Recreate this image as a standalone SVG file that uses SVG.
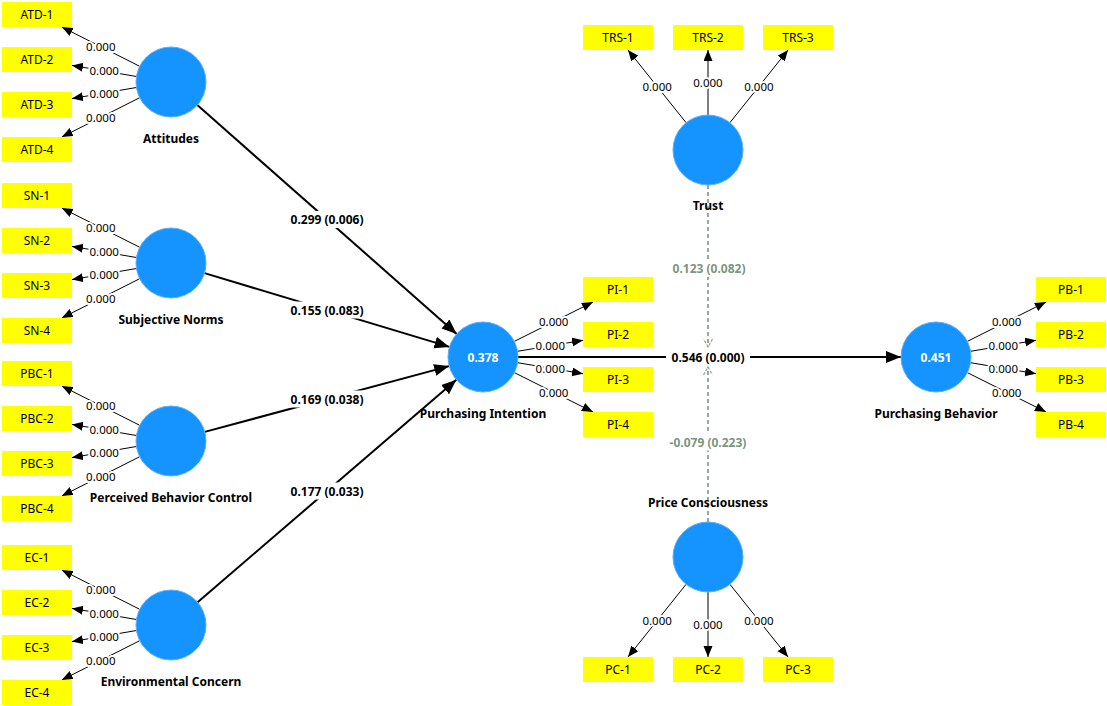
<svg xmlns="http://www.w3.org/2000/svg" width="1107" height="706" viewBox="0 0 1107 706">
<style>
.bg{fill:#ffffff}
.lv{fill:#1593ff;stroke:#5aaefc;stroke-width:1}
.ind{fill:#ffff00}
.it{font-family:"Noto Sans","Open Sans",sans-serif;font-size:12px;fill:#000;text-anchor:middle;dominant-baseline:central}
.nl{font-family:"Noto Sans","Open Sans",sans-serif;font-size:12px;font-weight:bold;fill:#000;text-anchor:middle;dominant-baseline:central}
.r2{font-family:"Noto Sans","Open Sans",sans-serif;font-size:12px;font-weight:bold;fill:#fff;text-anchor:middle;dominant-baseline:central}
.ld{stroke:#000;stroke-width:1;fill:none;marker-end:url(#sa)}
.ll{font-family:"Noto Sans","Open Sans",sans-serif;font-size:11.5px;fill:#000;text-anchor:middle;dominant-baseline:central;paint-order:stroke;stroke:#fff;stroke-width:4;stroke-linejoin:round}
.pth{stroke:#000;stroke-width:2;fill:none;marker-end:url(#ba)}
.pl{font-family:"Noto Sans","Open Sans",sans-serif;font-size:12px;font-weight:bold;fill:#000;text-anchor:middle;dominant-baseline:central}
.lb{fill:#fff}
.md{stroke:#7d9480;stroke-width:1.6;stroke-dasharray:4 3;fill:none;marker-end:url(#ma)}
.ml{font-family:"Noto Sans","Open Sans",sans-serif;font-size:12px;font-weight:bold;fill:#7d9480;text-anchor:middle;dominant-baseline:central}
</style>
<defs>
<marker id="sa" markerUnits="userSpaceOnUse" markerWidth="12" markerHeight="10" refX="11" refY="4.5" orient="auto"><path d="M0,0 L11,4.5 L0,9 z" fill="#000"/></marker>
<marker id="ba" markerUnits="userSpaceOnUse" markerWidth="16" markerHeight="13" refX="15" refY="6" orient="auto"><path d="M0,0 L15,6 L0,12 z" fill="#000"/></marker>
<marker id="ma" markerUnits="userSpaceOnUse" markerWidth="12" markerHeight="12" refX="9" refY="5.5" orient="auto"><path d="M1,1 L9,5.5 L1,10" fill="none" stroke="#8fa391" stroke-width="1.2" stroke-dasharray="3 1.5"/></marker>
</defs>
<rect class="bg" x="0" y="0" width="1107" height="706"/>

<g id="connectors">
<line class="ld" x1="139.7" y1="66.3" x2="61.8" y2="27"/>
<line class="ld" x1="136.4" y1="76.5" x2="72" y2="65.4"/>
<line class="ld" x1="136.4" y1="87.5" x2="72" y2="98.6"/>
<line class="ld" x1="139.7" y1="97.7" x2="61.8" y2="137"/>
<text class="ll" x="100.8" y="46.6">0.000</text>
<text class="ll" x="104.2" y="70.9">0.000</text>
<text class="ll" x="104.2" y="93.1">0.000</text>
<text class="ll" x="100.8" y="117.4">0.000</text>
<line class="ld" x1="139.7" y1="247.3" x2="61.8" y2="208"/>
<line class="ld" x1="136.4" y1="257.5" x2="72" y2="246.4"/>
<line class="ld" x1="136.4" y1="268.5" x2="72" y2="279.6"/>
<line class="ld" x1="139.7" y1="278.7" x2="61.8" y2="318"/>
<text class="ll" x="100.8" y="227.6">0.000</text>
<text class="ll" x="104.2" y="251.9">0.000</text>
<text class="ll" x="104.2" y="274.1">0.000</text>
<text class="ll" x="100.8" y="298.4">0.000</text>
<line class="ld" x1="139.7" y1="425.3" x2="61.8" y2="386"/>
<line class="ld" x1="136.4" y1="435.5" x2="72" y2="424.4"/>
<line class="ld" x1="136.4" y1="446.5" x2="72" y2="457.6"/>
<line class="ld" x1="139.7" y1="456.7" x2="61.8" y2="496"/>
<text class="ll" x="100.8" y="405.6">0.000</text>
<text class="ll" x="104.2" y="429.9">0.000</text>
<text class="ll" x="104.2" y="452.1">0.000</text>
<text class="ll" x="100.8" y="476.4">0.000</text>
<line class="ld" x1="139.7" y1="609.3" x2="61.8" y2="570"/>
<line class="ld" x1="136.4" y1="619.5" x2="72" y2="608.4"/>
<line class="ld" x1="136.4" y1="630.5" x2="72" y2="641.6"/>
<line class="ld" x1="139.7" y1="640.7" x2="61.8" y2="680"/>
<text class="ll" x="100.8" y="589.6">0.000</text>
<text class="ll" x="104.2" y="613.9">0.000</text>
<text class="ll" x="104.2" y="636.1">0.000</text>
<text class="ll" x="100.8" y="660.4">0.000</text>
<line class="ld" x1="514.3" y1="341.4" x2="593" y2="302"/>
<line class="ld" x1="517.5" y1="351.3" x2="583" y2="340.3"/>
<line class="ld" x1="517.5" y1="362.7" x2="583" y2="373.7"/>
<line class="ld" x1="514.3" y1="372.6" x2="593" y2="412"/>
<text class="ll" x="553.7" y="321.7">0.000</text>
<text class="ll" x="550.3" y="345.8">0.000</text>
<text class="ll" x="550.3" y="368.2">0.000</text>
<text class="ll" x="553.7" y="392.3">0.000</text>
<line class="ld" x1="967.3" y1="341.4" x2="1046" y2="302"/>
<line class="ld" x1="970.5" y1="351.3" x2="1036" y2="340.3"/>
<line class="ld" x1="970.5" y1="362.7" x2="1036" y2="373.7"/>
<line class="ld" x1="967.3" y1="372.6" x2="1046" y2="412"/>
<text class="ll" x="1006.7" y="321.7">0.000</text>
<text class="ll" x="1003.3" y="345.8">0.000</text>
<text class="ll" x="1003.3" y="368.2">0.000</text>
<text class="ll" x="1006.7" y="392.3">0.000</text>
<line class="ld" x1="686.1" y1="122.7" x2="628" y2="50"/>
<line class="ld" x1="708" y1="115" x2="708" y2="50"/>
<line class="ld" x1="729.9" y1="122.7" x2="788" y2="50"/>
<text class="ll" x="657.1" y="86.3">0.000</text>
<text class="ll" x="708" y="82.5">0.000</text>
<text class="ll" x="758.9" y="86.3">0.000</text>
<line class="ld" x1="686.1" y1="584.3" x2="628" y2="657"/>
<line class="ld" x1="708" y1="592" x2="708" y2="657"/>
<line class="ld" x1="729.9" y1="584.3" x2="788" y2="657"/>
<text class="ll" x="657.1" y="620.7">0.000</text>
<text class="ll" x="708" y="624.5">0.000</text>
<text class="ll" x="758.9" y="620.7">0.000</text>
<line class="pth" x1="197.3" y1="105.1" x2="456.7" y2="333.9"/>
<line class="pth" x1="204.5" y1="273.1" x2="449.5" y2="346.9"/>
<line class="pth" x1="204.8" y1="431.9" x2="449.2" y2="366.1"/>
<line class="pth" x1="197.6" y1="602.2" x2="456.4" y2="379.8"/>
<line class="pth" x1="518" y1="357" x2="901" y2="357"/>
<rect class="lb" x="288" y="211" width="78" height="17"/>
<text class="pl" x="327" y="219.5">0.299 (0.006)</text>
<rect class="lb" x="288" y="301.5" width="78" height="17"/>
<text class="pl" x="327" y="310">0.155 (0.083)</text>
<rect class="lb" x="288" y="390.5" width="78" height="17"/>
<text class="pl" x="327" y="399">0.169 (0.038)</text>
<rect class="lb" x="288" y="482.5" width="78" height="17"/>
<text class="pl" x="327" y="491">0.177 (0.033)</text>
<rect class="lb" x="666" y="348.5" width="84" height="17"/>
<text class="pl" x="708" y="357">0.546 (0.000)</text>
<line class="md" x1="708" y1="185" x2="708" y2="347"/>
<line class="md" x1="708" y1="522" x2="708" y2="367"/>
<rect class="lb" x="668" y="260" width="82" height="17"/>
<text class="ml" x="709" y="268.5">0.123 (0.082)</text>
<rect class="lb" x="664" y="433.5" width="88" height="17"/>
<text class="ml" x="708" y="442">-0.079 (0.223)</text>
</g>

<g id="Attitudes"><circle class="lv" cx="171" cy="82" r="35"/><text class="nl" x="171" y="138">Attitudes</text></g>
<g id="SubjectiveNorms"><circle class="lv" cx="171" cy="263" r="35"/><text class="nl" x="171" y="319">Subjective Norms</text></g>
<g id="PerceivedBehaviorControl"><circle class="lv" cx="171" cy="441" r="35"/><text class="nl" x="171" y="497">Perceived Behavior Control</text></g>
<g id="EnvironmentalConcern"><circle class="lv" cx="171" cy="625" r="35"/><text class="nl" x="171" y="681">Environmental Concern</text></g>
<g id="PurchasingIntention"><circle class="lv" cx="483" cy="357" r="35"/><text class="r2" x="483" y="357">0.378</text><text class="nl" x="483" y="413">Purchasing Intention</text></g>
<g id="PurchasingBehavior"><circle class="lv" cx="936" cy="357" r="35"/><text class="r2" x="936" y="357">0.451</text><text class="nl" x="936" y="413">Purchasing Behavior</text></g>
<g id="Trust"><circle class="lv" cx="708" cy="150" r="35"/><text class="nl" x="708" y="205">Trust</text></g>
<g id="PriceConsciousness"><circle class="lv" cx="708" cy="557" r="35"/><text class="nl" x="708" y="502">Price Consciousness</text></g>

<g id="ATD-1"><rect class="ind" x="2" y="2" width="70" height="25"/><text class="it" x="37" y="14.5">ATD-1</text></g>
<g id="ATD-2"><rect class="ind" x="2" y="47" width="70" height="25"/><text class="it" x="37" y="59.5">ATD-2</text></g>
<g id="ATD-3"><rect class="ind" x="2" y="92" width="70" height="25"/><text class="it" x="37" y="104.5">ATD-3</text></g>
<g id="ATD-4"><rect class="ind" x="2" y="137" width="70" height="25"/><text class="it" x="37" y="149.5">ATD-4</text></g>
<g id="SN-1"><rect class="ind" x="2" y="183" width="70" height="25"/><text class="it" x="37" y="195.5">SN-1</text></g>
<g id="SN-2"><rect class="ind" x="2" y="228" width="70" height="25"/><text class="it" x="37" y="240.5">SN-2</text></g>
<g id="SN-3"><rect class="ind" x="2" y="273" width="70" height="25"/><text class="it" x="37" y="285.5">SN-3</text></g>
<g id="SN-4"><rect class="ind" x="2" y="318" width="70" height="25"/><text class="it" x="37" y="330.5">SN-4</text></g>
<g id="PBC-1"><rect class="ind" x="2" y="361" width="70" height="25"/><text class="it" x="37" y="373.5">PBC-1</text></g>
<g id="PBC-2"><rect class="ind" x="2" y="406" width="70" height="25"/><text class="it" x="37" y="418.5">PBC-2</text></g>
<g id="PBC-3"><rect class="ind" x="2" y="451" width="70" height="25"/><text class="it" x="37" y="463.5">PBC-3</text></g>
<g id="PBC-4"><rect class="ind" x="2" y="496" width="70" height="25"/><text class="it" x="37" y="508.5">PBC-4</text></g>
<g id="EC-1"><rect class="ind" x="2" y="545" width="70" height="25"/><text class="it" x="37" y="557.5">EC-1</text></g>
<g id="EC-2"><rect class="ind" x="2" y="590" width="70" height="25"/><text class="it" x="37" y="602.5">EC-2</text></g>
<g id="EC-3"><rect class="ind" x="2" y="635" width="70" height="25"/><text class="it" x="37" y="647.5">EC-3</text></g>
<g id="EC-4"><rect class="ind" x="2" y="680" width="70" height="25"/><text class="it" x="37" y="692.5">EC-4</text></g>
<g id="PI-1"><rect class="ind" x="583" y="277" width="70" height="25"/><text class="it" x="618" y="289.5">PI-1</text></g>
<g id="PI-2"><rect class="ind" x="583" y="322" width="70" height="25"/><text class="it" x="618" y="334.5">PI-2</text></g>
<g id="PI-3"><rect class="ind" x="583" y="367" width="70" height="25"/><text class="it" x="618" y="379.5">PI-3</text></g>
<g id="PI-4"><rect class="ind" x="583" y="412" width="70" height="25"/><text class="it" x="618" y="424.5">PI-4</text></g>
<g id="PB-1"><rect class="ind" x="1036" y="277" width="70" height="25"/><text class="it" x="1071" y="289.5">PB-1</text></g>
<g id="PB-2"><rect class="ind" x="1036" y="322" width="70" height="25"/><text class="it" x="1071" y="334.5">PB-2</text></g>
<g id="PB-3"><rect class="ind" x="1036" y="367" width="70" height="25"/><text class="it" x="1071" y="379.5">PB-3</text></g>
<g id="PB-4"><rect class="ind" x="1036" y="412" width="70" height="25"/><text class="it" x="1071" y="424.5">PB-4</text></g>
<g id="TRS-1"><rect class="ind" x="583" y="25" width="70" height="25"/><text class="it" x="618" y="37.5">TRS-1</text></g>
<g id="TRS-2"><rect class="ind" x="673" y="25" width="70" height="25"/><text class="it" x="708" y="37.5">TRS-2</text></g>
<g id="TRS-3"><rect class="ind" x="763" y="25" width="70" height="25"/><text class="it" x="798" y="37.5">TRS-3</text></g>
<g id="PC-1"><rect class="ind" x="583" y="657" width="70" height="25"/><text class="it" x="618" y="669.5">PC-1</text></g>
<g id="PC-2"><rect class="ind" x="673" y="657" width="70" height="25"/><text class="it" x="708" y="669.5">PC-2</text></g>
<g id="PC-3"><rect class="ind" x="763" y="657" width="70" height="25"/><text class="it" x="798" y="669.5">PC-3</text></g>
</svg>
